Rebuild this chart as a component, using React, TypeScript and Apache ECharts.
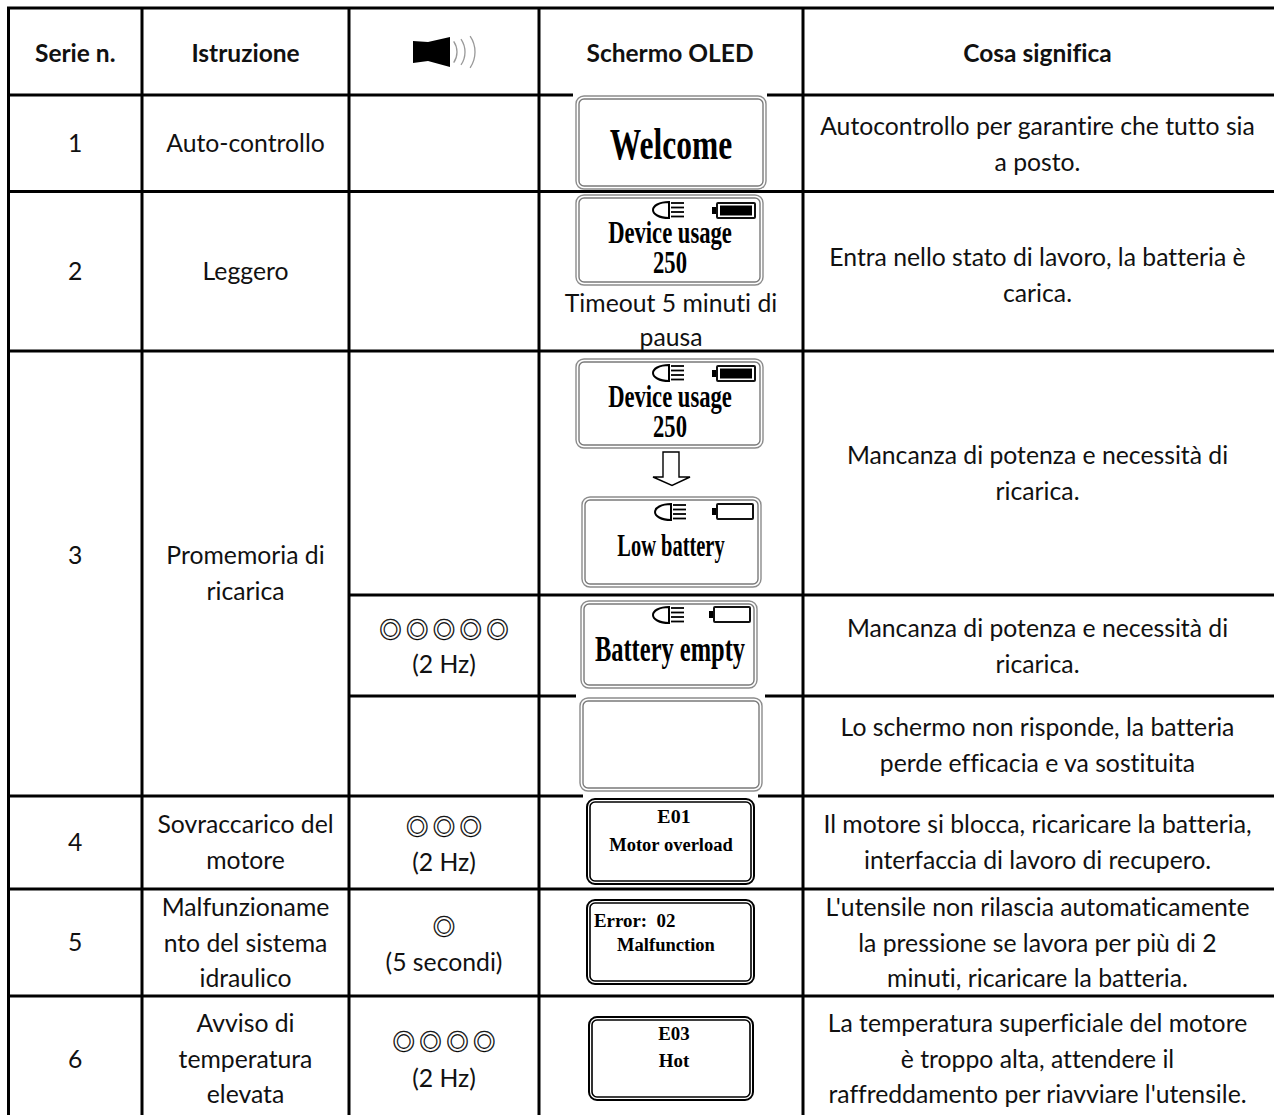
import React, { useEffect, useRef } from "react";
import * as echarts from "echarts";

// ---- table content ----
const headers = ["Serie n.", "Istruzione", "", "Schermo OLED", "Cosa significa"];
const serialNumbers = ["1", "2", "3", "4", "5", "6"];
const instructions = [
  ["Auto-controllo"],
  ["Leggero"],
  ["Promemoria di", "ricarica"],
  ["Sovraccarico del", "motore"],
  ["Malfunzioname", "nto del sistema", "idraulico"],
  ["Avviso di", "temperatura", "elevata"],
];
const meanings = [
  ["Autocontrollo per garantire che tutto sia", "a posto."],
  ["Entra nello stato di lavoro, la batteria è", "carica."],
  ["Mancanza di potenza e necessità di", "ricarica."],
  ["Mancanza di potenza e necessità di", "ricarica."],
  ["Lo schermo non risponde, la batteria", "perde efficacia e va sostituita"],
  ["Il motore si blocca, ricaricare la batteria,", "interfaccia di lavoro di recupero."],
  ["L'utensile non rilascia automaticamente", "la pressione se lavora per più di 2", "minuti, ricaricare la batteria."],
  ["La temperatura superficiale del motore", "è troppo alta, attendere il", "raffreddamento per riavviare l'utensile."],
];
const beepCounts = [5, 3, 1, 4];
const beepNotes = ["(2 Hz)", "(2 Hz)", "(5 secondi)", "(2 Hz)"];
const timeoutNote = ["Timeout 5 minuti di", "pausa"];

// ---- layout ----
const colX = [8.5, 142, 349, 539, 803];
const rowY = [8, 95, 191.5, 351, 595, 696, 796, 889, 996];
const W = 1274;
const H = 1115;
const BODY = "Lato, Carlito, sans-serif";
const SERIF = '"Liberation Serif", serif';
const INK = "#111";
const BODY_SX = 0.99;

const el: any[] = [];
const txt = (text: string, x: number, y: number, o: any = {}) =>
  el.push({
    type: "text",
    x,
    y,
    scaleX: o.sx ?? BODY_SX,
    scaleY: o.sy ?? 1,
    silent: true,
    style: {
      text,
      fill: o.fill ?? INK,
      stroke: o.stroke,
      lineWidth: o.lineWidth,
      font: o.font ?? `25px ${BODY}`,
      textAlign: o.align ?? "center",
      textVerticalAlign: "middle",
    },
  });
const stack = (lines: string[], x: number, y: number, gap = 35.5) =>
  lines.forEach((l, i) => txt(l, x, y - 1 + i * gap));

const line = (x1: number, y1: number, x2: number, y2: number, w = 3, c = "#000") =>
  el.push({ type: "line", silent: true, shape: { x1, y1, x2, y2 }, style: { stroke: c, lineWidth: w } });
const mask = (x: number, y: number, w: number, h: number) =>
  el.push({ type: "rect", silent: true, shape: { x, y, width: w, height: h }, style: { fill: "#fff" } });

const frame = (x1: number, y1: number, x2: number, y2: number, dark = false) => {
  const c = dark ? "#000" : "#8c8c8c";
  el.push({
    type: "rect",
    silent: true,
    shape: { x: x1 + 1, y: y1 + 1, width: x2 - x1 - 2, height: y2 - y1 - 2, r: 8 },
    style: { fill: "#fff", stroke: c, lineWidth: dark ? 2 : 1.4 },
  });
  el.push({
    type: "rect",
    silent: true,
    shape: { x: x1 + 4, y: y1 + 4, width: x2 - x1 - 8, height: y2 - y1 - 8, r: 5 },
    style: { fill: "#fff", stroke: dark ? "#000" : "#7a7a7a", lineWidth: dark ? 1.6 : 1.4 },
  });
};

echarts.graphic.registerShape(
  "lampDome",
  echarts.graphic.extendPath("M16 0 C6 0 0 4 0 8 C0 12 6 16 16 16 Z", {})
);
const lamp = (x: number, y: number) => {
  el.push({
    type: "lampDome",
    silent: true,
    x,
    y,
    style: { fill: "#fff", stroke: "#000", lineWidth: 2 },
  });
  [1, 5.5, 10, 14.5].forEach((d) => line(x + 18, y + d, x + 31, y + d, 1.8));
};
const battery = (x: number, y: number, w: number, h: number, full: boolean) => {
  el.push({
    type: "rect",
    silent: true,
    shape: { x, y: y + 4, width: 6, height: h - 8 },
    style: { fill: "#000" },
  });
  el.push({
    type: "rect",
    silent: true,
    shape: { x: x + 5, y, width: w - 5, height: h, r: 1 },
    style: { fill: "#fff", stroke: "#111", lineWidth: 2 },
  });
  if (full)
    el.push({
      type: "rect",
      silent: true,
      shape: { x: x + 8, y: y + 2.5, width: w - 11, height: h - 5 },
      style: { fill: "#000" },
    });
};
const oled = (text: string, x: number, y: number, size: number, sx: number, align = "center") =>
  txt(text, x, y, { font: `bold ${size}px ${SERIF}`, sx, fill: "#000", align });

const beeps = (n: number, cx: number, y: number) => {
  const pitch = 26.8;
  for (let i = 0; i < n; i++)
    txt("◎", cx + (i - (n - 1) / 2) * pitch, y, {
      font: '22.5px "Noto Sans CJK JP"',
      sx: 1,
      fill: "#000",
      stroke: "#000",
      lineWidth: 0.35,
    });
};

const c1 = (colX[0] + colX[1]) / 2;
const c2 = (colX[1] + colX[2]) / 2;
const c3 = (colX[2] + colX[3]) / 2;
const c4 = (colX[3] + colX[4]) / 2 - 1;
const c5 = (colX[4] + W) / 2 - 1;

// background
mask(0, 0, W, H);

// grid lines
[rowY[0], rowY[1], rowY[2], rowY[3], rowY[6], rowY[7], rowY[8]].forEach((y) => line(colX[0] - 1.5, y, W, y));
[rowY[4], rowY[5]].forEach((y) => line(colX[2], y, W, y));
colX.forEach((x) => line(x, rowY[0], x, H));

// header
[c1, c2, c3, c4, c5].forEach((c, i) => {
  if (headers[i]) txt(headers[i], c, 52, { font: `bold 25px ${BODY}`, sx: 0.98 });
});
// speaker icon
el.push({
  type: "polygon",
  silent: true,
  shape: { points: [[413, 41], [428, 42], [450, 37], [450, 67], [428, 61], [413, 63]] },
  style: { fill: "#000" },
});
[[438, 19], [442, 23], [447, 28]].forEach(([cx, r]) =>
  el.push({
    type: "arc",
    silent: true,
    shape: { cx, cy: 52, r, startAngle: -0.6, endAngle: 0.6, clockwise: true },
    style: { stroke: "#999", lineWidth: 1.3, fill: "none" },
  })
);

// first columns
const rowCenters = [143, 271, 555, 842, 942, 1059];
serialNumbers.forEach((s, i) => txt(s, c1, rowCenters[i] - 1));
const instrTop = [143, 271, 555, 824, 907, 1023];
instructions.forEach((l, i) => stack(l, c2, instrTop[i]));

// beep column
const beepY = [[628, 664], [825, 862], [925, 962], [1040, 1078]];
beepCounts.forEach((n, i) => {
  beeps(n, c3, beepY[i][0]);
  txt(beepNotes[i], c3, beepY[i][1] - 1);
});

// OLED screens
mask(573, 93, 194, 4);
frame(575, 95, 767, 190);
oled("Welcome", 671, 143, 45, 0.7);

frame(575, 194, 764, 286);
lamp(653, 202);
battery(712, 203, 43, 15, true);
oled("Device usage", 670, 233, 31, 0.73);
oled("250", 670, 263, 31, 0.73);
stack(timeoutNote, 671, 303, 33.5);

frame(575, 358, 764, 449);
lamp(653, 365);
battery(712, 366, 43, 15, true);
oled("Device usage", 670, 397, 31, 0.73);
oled("250", 670, 427, 31, 0.73);

el.push({
  type: "polygon",
  silent: true,
  shape: { points: [[663, 452], [679, 452], [679, 477], [690, 477], [672, 485.5], [653, 477], [663, 477]] },
  style: { fill: "#fff", stroke: "#000", lineWidth: 1.4 },
});

frame(581, 496, 762, 588);
lamp(655, 504);
battery(712, 504, 41, 15, false);
oled("Low battery", 671, 546, 31, 0.66);

frame(580, 600, 758, 689);
lamp(653, 607);
battery(709, 607, 41, 15, false);
oled("Battery empty", 670, 649, 36, 0.68);

mask(576, 694, 189, 4);
frame(579, 697, 763, 792);

mask(583, 794, 175, 4);
frame(586, 798, 755, 885, true);
oled("E01", 674, 817, 19, 1.05);
oled("Motor overload", 671, 845, 18, 1.03);

frame(586, 899, 755, 985, true);
oled("Error:  02", 594, 921, 18, 1.05, "left");
oled("Malfunction", 666, 945, 18, 1.03);

frame(588, 1016, 754, 1101, true);
oled("E03", 674, 1034, 18, 1.05);
oled("Hot", 674, 1061, 18, 1.05);

// meanings
const meaningTop = [126, 257, 455, 628, 727, 824, 907, 1023];
meanings.forEach((l, i) => stack(l, c5, meaningTop[i]));

export default function App() {
  const ref = useRef<HTMLDivElement>(null);
  useEffect(() => {
    const chart = echarts.init(ref.current!, undefined, { renderer: "svg" });
    chart.setOption({ animation: false, backgroundColor: "#fff", graphic: { elements: el } });
    return () => chart.dispose();
  }, []);
  return (
    <>
      <style>{'svg text { font-variant-ligatures: none !important; font-feature-settings: "liga" 0, "clig" 0, "dlig" 0 !important; }'}</style>
      <div ref={ref} style={{ position: "absolute", left: 0, top: 0, width: W, height: H }} />
    </>
  );
}
